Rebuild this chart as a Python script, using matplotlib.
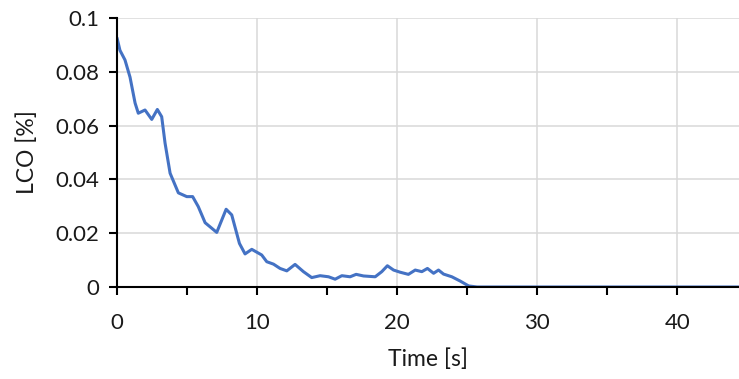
import numpy as np
import matplotlib
matplotlib.use("Agg")
import matplotlib.pyplot as plt
from matplotlib.ticker import MultipleLocator

# valores
tiempo = [0.0, 0.21, 0.57, 0.93, 1.29, 1.52, 2.0, 2.48, 2.88, 3.19, 3.43, 3.79,
          4.38, 4.98, 5.4, 5.8, 6.29, 7.12, 7.79, 8.19, 8.74, 9.14, 9.62, 10.33,
          10.69, 11.17, 11.64, 12.12, 12.71, 13.31, 13.9, 14.5, 15.1, 15.57,
          16.05, 16.64, 17.07, 17.6, 18.43, 18.9, 19.3, 19.74, 20.21, 20.8,
          21.29, 21.76, 22.16, 22.6, 22.95, 23.31, 23.9, 24.5, 25.1, 25.7,
          30.0, 35.0, 40.0, 44.5]
lco = [0.0926, 0.088, 0.0844, 0.078, 0.0684, 0.0646, 0.0658, 0.0623, 0.066,
       0.0633, 0.0535, 0.0423, 0.035, 0.0336, 0.0336, 0.0299, 0.0239, 0.0203,
       0.0289, 0.0268, 0.0162, 0.0123, 0.014, 0.0119, 0.0094, 0.0085, 0.0069,
       0.006, 0.0084, 0.0057, 0.0035, 0.0042, 0.0038, 0.0029, 0.0042, 0.0038,
       0.0047, 0.0041, 0.0038, 0.0057, 0.0079, 0.0063, 0.0055, 0.0047, 0.0063,
       0.0057, 0.0069, 0.0051, 0.0063, 0.0048, 0.0038, 0.0022, 0.0004, 0.0,
       0.0, 0.0, 0.0, 0.0]

plt.rcParams['font.family'] = ['Lato', 'DejaVu Sans']

fig = plt.figure(figsize=(7.39, 3.79), dpi=100)
ax = fig.add_axes([117 / 739, 1 - 287 / 379, 1 - 117 / 739, (287 - 18) / 379])

ax.plot(tiempo, lco, color='#4472C4', linewidth=2.2, solid_joinstyle='round',
        solid_capstyle='round', zorder=3)

ax.set_xlim(0, 44.4)
ax.set_ylim(0, 0.1)
ax.xaxis.set_major_locator(MultipleLocator(10))
ax.xaxis.set_minor_locator(MultipleLocator(5))
ax.set_yticks([0, 0.02, 0.04, 0.06, 0.08, 0.1])
ax.set_yticklabels(['0', '0.02', '0.04', '0.06', '0.08', '0.1'])

ax.grid(True, which='major', color='#d9d9d9', linewidth=1.1)
ax.set_axisbelow(True)
for lado in ['top', 'right']:
    ax.spines[lado].set_visible(False)
for lado in ['left', 'bottom']:
    ax.spines[lado].set_linewidth(1.5)
    ax.spines[lado].set_color('black')
    ax.spines[lado].set_zorder(4)

ax.tick_params(axis='both', which='both', direction='out', width=1.5, color='black',
               labelsize=16, labelcolor='#1a1a1a')
ax.tick_params(axis='x', which='both', length=6, pad=13)
ax.tick_params(axis='y', which='major', length=6, pad=7)

ax.set_xlabel('Time [s]', fontsize=16.5, color='#1a1a1a', labelpad=11)
ax.set_ylabel('LCO [%]', fontsize=16.5, color='#1a1a1a', labelpad=12)

fig.savefig('out.png', dpi=100)
